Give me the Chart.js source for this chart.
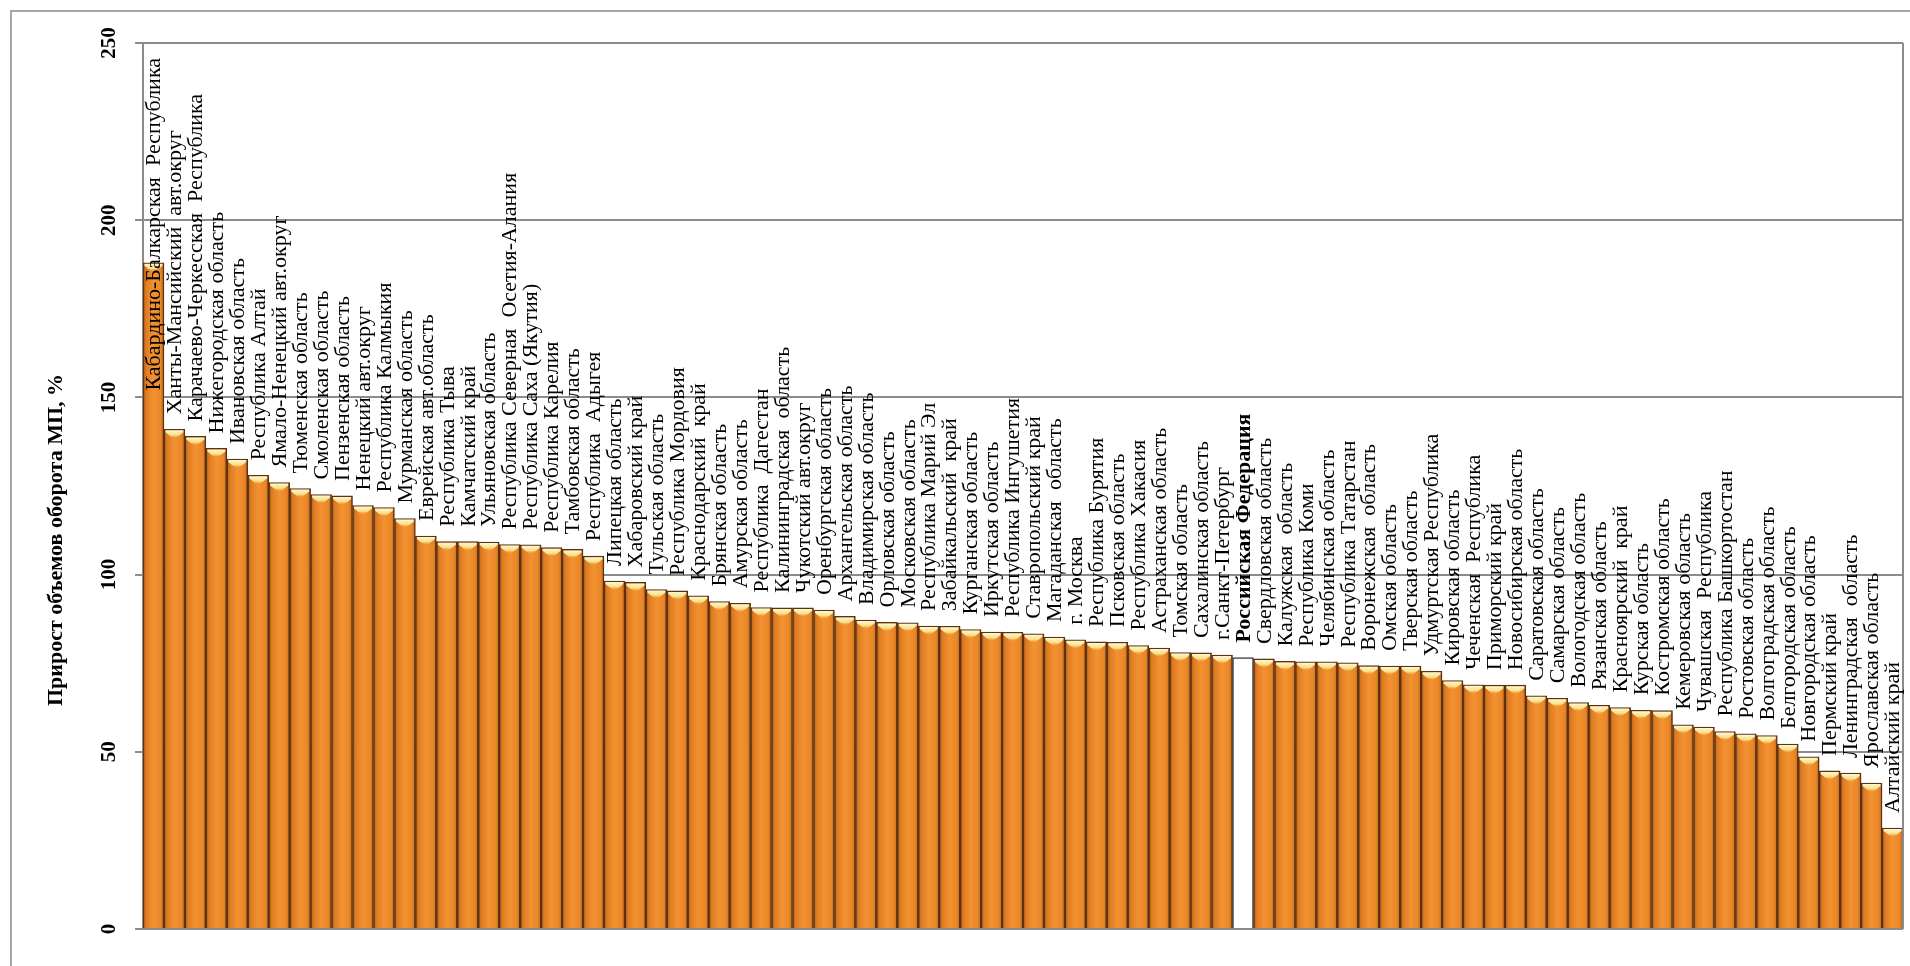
<!DOCTYPE html>
<html><head><meta charset="utf-8">
<script src="https://cdn.jsdelivr.net/npm/chart.js@4/dist/chart.umd.min.js"></script>
<style>html,body{margin:0;padding:0;background:#fff;overflow:hidden}#c{display:block}</style>
</head><body>
<canvas id="c" width="1910" height="966"></canvas>
<script>
const regions = [
'Кабардино-Балкарская  Республика','Ханты-Мансийский  авт.округ','Карачаево-Черкесская  Республика','Нижегородская область','Ивановская область',
'Республика Алтай','Ямало-Ненецкий авт.округ','Тюменская область','Смоленская область','Пензенская область',
'Ненецкий авт.округ','Республика Калмыкия','Мурманская область','Еврейская авт.область','Республика Тыва',
'Камчатский край','Ульяновская область','Республика Северная  Осетия-Алания','Республика Саха (Якутия)','Республика Карелия',
'Тамбовская область','Республика  Адыгея','Липецкая область','Хабаровский край','Тульская область',
'Республика Мордовия','Краснодарский  край','Брянская область','Амурская область','Республика  Дагестан',
'Калининградская  область','Чукотский авт.округ','Оренбургская область','Архангельская область','Владимирская область',
'Орловская область','Московская область','Республика Марий Эл','Забайкальский  край','Курганская область',
'Иркутская область','Республика Ингушетия','Ставропольский край','Магаданская  область','г. Москва',
'Республика Бурятия','Псковская область','Республика Хакасия','Астраханская область','Томская область',
'Сахалинская область','г.Санкт-Петербург','Российская Федерация','Свердловская область','Калужская  область',
'Республика Коми','Челябинская область','Республика Татарстан','Воронежская  область','Омская область',
'Тверская область','Удмуртская Республика','Кировская область','Чеченская  Республика','Приморский край',
'Новосибирская область','Саратовская область','Самарская область','Вологодская область','Рязанская область',
'Красноярский  край','Курская область','Костромская область','Кемеровская область','Чувашская  Республика',
'Республика Башкортостан','Ростовская область','Волгоградская область','Белгородская область','Новгородская область',
'Пермский край','Ленинградская  область','Ярославская область','Алтайский край'
];
const growth = [
188,141,139,135.6,132.6,
128,126,124.3,122.6,122.2,
119.5,118.9,115.8,110.9,109.3,
109.3,109.2,108.5,108.4,107.6,
107.1,105.2,98.2,97.8,95.8,
95.4,94,92.4,91.9,90.7,
90.6,90.6,90,88.2,87.2,
86.5,86.4,85.5,85.4,84.5,
83.8,83.7,83.3,82.4,81.6,
81,80.9,80,79.3,78,
77.9,77.3,76.6,76.2,75.5,
75.4,75.4,75.1,74.3,74.2,
74.2,72.7,70.1,68.9,68.8,
68.8,65.8,65.1,63.9,63.1,
62.5,61.7,61.6,57.6,57,
55.7,55.1,54.6,52.2,48.6,
44.6,44,41.2,28.5
];
const yTicks = [0, 50, 100, 150, 200, 250];
const highlightRegion = 'Российская Федерация';
const yTitle = 'Прирост объемов оборота МП, %';

const SERIF = '"Liberation Serif","Times New Roman",serif';
const GRID = '#8c8c8c';

function barFill(c) {
  const chart = c.chart, i = c.dataIndex;
  if (regions[i] === highlightRegion) return '#ffffff';
  const xs = chart.scales.x;
  if (!xs || !chart.chartArea) return '#f08a2a';
  const cx = xs.getPixelForValue(i);
  const half = (xs.getPixelForValue(1) - xs.getPixelForValue(0)) / 2;
  const g = chart.ctx.createLinearGradient(cx - half, 0, cx + half, 0);
  g.addColorStop(0, '#b55a14');
  g.addColorStop(0.16, '#e07c22');
  g.addColorStop(0.5, '#f39231');
  g.addColorStop(0.84, '#ea8728');
  g.addColorStop(1, '#c2641a');
  return g;
}
function barBorder(c) {
  return regions[c.dataIndex] === highlightRegion ? '#3c3c3c' : '#5a3412';
}

const decorPlugin = {
  id: 'decor',
  beforeDraw(chart) {
    const ctx = chart.ctx;
    ctx.save();
    ctx.fillStyle = '#fff';
    ctx.fillRect(0, 0, chart.width, chart.height);
    ctx.strokeStyle = '#a6a6a6';
    ctx.lineWidth = 2;
    ctx.beginPath();
    ctx.moveTo(11, chart.height); ctx.lineTo(11, 11); ctx.lineTo(chart.width, 11);
    ctx.stroke();
    ctx.restore();
  },
  afterDatasetsDraw(chart) {
    const ctx = chart.ctx, area = chart.chartArea;
    const meta = chart.getDatasetMeta(0);
    ctx.save();
    meta.data.forEach((el, i) => {
      if (regions[i] === highlightRegion) return;
      const p = el.getProps(['x', 'y', 'width'], true);
      const l = p.x - p.width / 2 + 1.5, r = p.x + p.width / 2 - 1.5, t = p.y + 1;
      const g = ctx.createLinearGradient(0, t, 0, t + 8);
      g.addColorStop(0, '#fff6d2');
      g.addColorStop(0.6, '#f9df86');
      g.addColorStop(1, 'rgba(246,170,70,0)');
      ctx.fillStyle = g;
      ctx.beginPath();
      ctx.moveTo(l, t); ctx.lineTo(r, t); ctx.lineTo(r, t + 2);
      ctx.lineTo(p.x + 1.5, t + 8); ctx.lineTo(p.x - 1.5, t + 8);
      ctx.lineTo(l, t + 2); ctx.closePath(); ctx.fill();
    });
    ctx.strokeStyle = GRID; ctx.lineWidth = 2;
    ctx.beginPath(); ctx.moveTo(area.right, area.top); ctx.lineTo(area.right, area.bottom); ctx.stroke();
    ctx.fillStyle = '#000';
    ctx.textAlign = 'left';
    ctx.textBaseline = 'middle';
    meta.data.forEach((el, i) => {
      const p = el.getProps(['x', 'y'], true);
      const bold = regions[i] === highlightRegion;
      ctx.font = (bold ? 'bold ' : '') + '22px ' + SERIF;
      const w = ctx.measureText(regions[i]).width;
      let bottom = p.y - 15;
      if (bottom - w < area.top + 15) bottom = area.top + 15 + w;
      ctx.save();
      ctx.translate(p.x + 1, bottom);
      ctx.rotate(-Math.PI / 2);
      ctx.fillText(regions[i], 0, 0);
      ctx.restore();
    });
    ctx.restore();
  },
  afterDraw(chart) {
    const ctx = chart.ctx, ys = chart.scales.y;
    ctx.save();
    ctx.fillStyle = '#000';
    ctx.textAlign = 'center';
    ctx.textBaseline = 'middle';
    ctx.font = 'bold 21px ' + SERIF;
    yTicks.forEach(v => {
      ctx.save();
      ctx.translate(110, ys.getPixelForValue(v));
      ctx.rotate(-Math.PI / 2);
      ctx.fillText(String(v), 0, 0);
      ctx.restore();
    });
    ctx.font = 'bold 22px ' + SERIF;
    ctx.translate(56, 540);
    ctx.rotate(-Math.PI / 2);
    ctx.fillText(yTitle, 0, 0);
    ctx.restore();
  }
};

new Chart(document.getElementById('c'), {
  type: 'bar',
  data: {
    labels: regions,
    datasets: [{
      data: growth,
      backgroundColor: barFill,
      borderColor: barBorder,
      borderWidth: 1.5,
      borderSkipped: 'start',
      barPercentage: 1,
      categoryPercentage: 1
    }]
  },
  options: {
    responsive: false,
    animation: false,
    devicePixelRatio: 1,
    layout: { padding: { left: 0, top: 43, right: 7, bottom: 37 } },
    plugins: { legend: { display: false }, tooltip: { enabled: false } },
    scales: {
      x: { display: false, offset: true },
      y: {
        min: 0, max: 250,
        afterBuildTicks: s => { s.ticks = yTicks.map(v => ({ value: v })); },
        afterFit: s => { s.width = 143; },
        ticks: { display: false },
        grid: { color: GRID, lineWidth: 2, tickLength: 8, drawTicks: true },
        border: { display: true, color: GRID, width: 2 }
      }
    }
  },
  plugins: [decorPlugin]
});
</script>
</body></html>
